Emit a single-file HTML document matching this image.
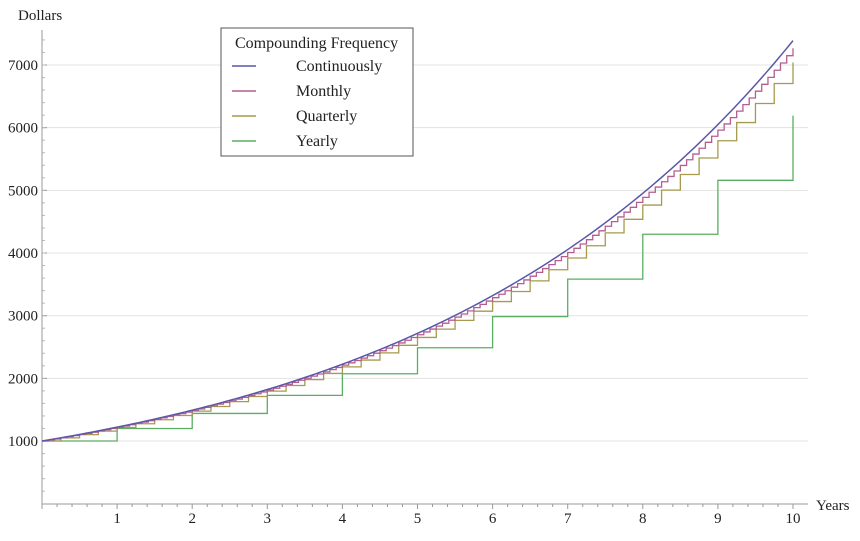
<!DOCTYPE html>
<html><head><meta charset="utf-8"><style>
html,body{margin:0;padding:0;background:#fff;}
svg text{font-family:"Liberation Serif",serif;font-size:15px;fill:#222;}
svg .lg text{font-size:16px;}
</style></head><body>
<svg id="chart" width="860" height="536" viewBox="0 0 860 536" xmlns="http://www.w3.org/2000/svg">
<g id="grid"></g>
<g id="axes"></g>
<g id="series"></g>
<text x="18" y="20">Dollars</text>
<text x="816" y="510">Years</text>
<g class="lg">
<rect x="221" y="28" width="192" height="128" fill="#fff" stroke="#555" stroke-width="1"/>
<text x="235" y="48">Compounding Frequency</text>
<g><line x1="232" y1="66" x2="256" y2="66" stroke="#5b57a8" stroke-width="1.5"/><text x="296" y="71">Continuously</text></g>
<g><line x1="232" y1="91" x2="256" y2="91" stroke="#b55d8f" stroke-width="1.5"/><text x="296" y="96">Monthly</text></g>
<g><line x1="232" y1="116" x2="256" y2="116" stroke="#a69a4c" stroke-width="1.5"/><text x="296" y="121">Quarterly</text></g>
<g><line x1="232" y1="141" x2="256" y2="141" stroke="#5aae61" stroke-width="1.5"/><text x="296" y="146">Yearly</text></g>
</g>
</svg>
<script>
const xTicks = [1,2,3,4,5,6,7,8,9,10];
const yTicks = [1000,2000,3000,4000,5000,6000,7000];
const principal = 1000;
const continuousRate = 0.2;
const monthlyRate = 0.2/12;
const yearlyValues = [1000,1200,1440,1728,2073.6,2488.3,2986.0,3583.2,4299.8,5159.8,6191.7];
const quarterlyValues = [1000,1050,1102.5,1157.6,1215.5,1276.3,1340.1,1407.1,1477.5,1551.3,1628.9,1710.3,1795.9,1885.6,1979.9,2078.9,2182.9,2292.0,2406.6,2527.0,2653.3,2786.0,2925.3,3071.5,3225.1,3386.4,3555.7,3733.5,3920.1,4116.1,4321.9,4538.0,4764.9,5003.2,5253.3,5516.0,5791.8,6081.4,6385.5,6704.8,7040.0];

const NS="http://www.w3.org/2000/svg";
const X=t=>42+t*75.1;
const Y=v=>503.7-v*0.06267;
function mk(tag,attrs,parent){const e=document.createElementNS(NS,tag);for(const k in attrs)e.setAttribute(k,attrs[k]);parent.appendChild(e);return e;}
const grid=document.getElementById('grid'),axes=document.getElementById('axes'),series=document.getElementById('series');
yTicks.forEach(v=>{
  const l=mk('line',{x1:42,x2:808,y1:Y(v),y2:Y(v),stroke:'#e3e3e3','stroke-width':1},grid);
  
  
  const t=mk('text',{x:38,y:Y(v)+5,'text-anchor':'end'},axes);t.textContent=v;
  
  
  mk('line',{x1:42,x2:47,y1:Y(v),y2:Y(v),stroke:'#999'},axes);
});
for(let v=200;v<=7400;v+=200){mk('line',{x1:42,x2:45,y1:Y(v),y2:Y(v),stroke:'#bbb'},axes);}
const xa=mk('line',{x1:42,x2:808,y1:504,y2:504,stroke:'#999'},axes);


const ya=mk('line',{x1:42,x2:42,y1:30,y2:504,stroke:'#999'},axes);


for(let t=0;t<=10.01;t+=0.2){mk('line',{x1:X(t),x2:X(t),y1:504,y2:Math.abs(t-Math.round(t))<0.01?509:507,stroke:'#999'},axes);}
xTicks.forEach(t=>{const e=mk('text',{x:X(t),y:523,'text-anchor':'middle'},axes);e.textContent=t;
  
  });
function steps(vals,n){let d='M'+X(0)+','+Y(vals[0]);for(let i=1;i<vals.length;i++){d+=' L'+X(i/n)+','+Y(vals[i-1])+' L'+X(i/n)+','+Y(vals[i]);}return d;}
const monthlyValues=[];for(let k=0;k<=120;k++)monthlyValues.push(principal*Math.pow(1+monthlyRate,k));
const py=mk('path',{d:steps(yearlyValues,1),fill:'none',stroke:'#5aae61','stroke-width':1.3},series);


const pq=mk('path',{d:steps(quarterlyValues,4),fill:'none',stroke:'#a69a4c','stroke-width':1.3},series);


const pm=mk('path',{d:steps(monthlyValues,12),fill:'none',stroke:'#b55d8f','stroke-width':1.3},series);


let d='';for(let i=0;i<=200;i++){const t=i/20;d+=(i?' L':'M')+X(t)+','+Y(principal*Math.exp(continuousRate*t));}
const pc=mk('path',{d:d,fill:'none',stroke:'#5b57a8','stroke-width':1.5},series);


</script>
</body></html>
